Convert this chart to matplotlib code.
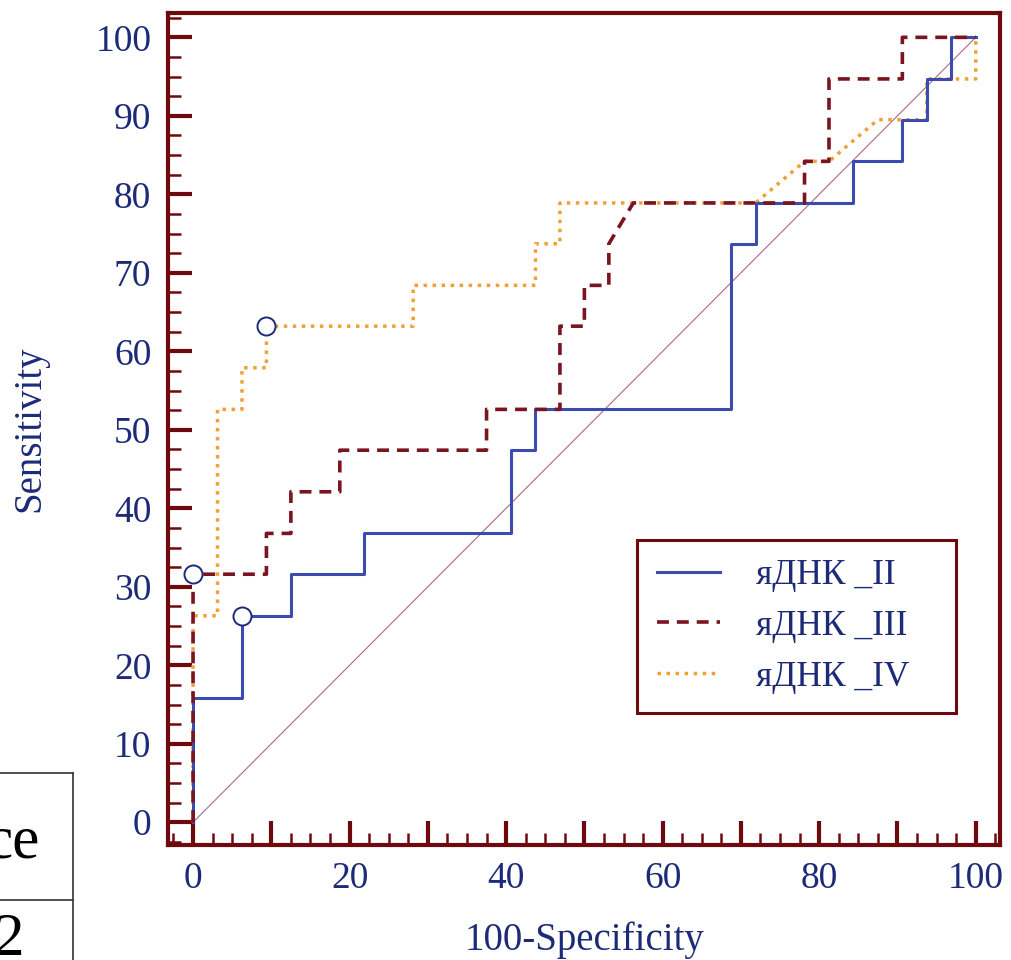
import numpy as np
import matplotlib
matplotlib.use('Agg')
import matplotlib.pyplot as plt
from matplotlib.ticker import MultipleLocator, FuncFormatter
from matplotlib.lines import Line2D

plt.rcParams['font.family'] = ['Liberation Serif', 'DejaVu Serif']

# ROC curves, path vertices (100-Specificity, Sensitivity)
ii_x = [0, 0, 6.25, 6.25, 12.5, 12.5, 21.875, 21.875, 40.625, 40.625, 43.75, 43.75,
        68.75, 68.75, 71.875, 71.875, 84.375, 84.375, 90.625, 90.625, 93.75, 93.75,
        96.875, 96.875, 100]
ii_y = [0, 15.8, 15.8, 26.3, 26.3, 31.6, 31.6, 36.8, 36.8, 47.4, 47.4, 52.6,
        52.6, 73.7, 73.7, 78.9, 78.9, 84.2, 84.2, 89.5, 89.5, 94.7,
        94.7, 100, 100]

iii_x = [0, 0, 9.375, 9.375, 12.5, 12.5, 18.75, 18.75, 37.5, 37.5, 46.875, 46.875,
         50, 50, 53.125, 53.125, 56.25, 78.125, 78.125, 81.25, 81.25, 90.625, 90.625, 100]
iii_y = [0, 31.6, 31.6, 36.8, 36.8, 42.1, 42.1, 47.4, 47.4, 52.6, 52.6, 63.2,
         63.2, 68.4, 68.4, 73.7, 78.9, 78.9, 84.2, 84.2, 94.7, 94.7, 100, 100]

iv_x = [0, 0, 3.125, 3.125, 6.25, 6.25, 9.375, 9.375, 28.125, 28.125, 43.75, 43.75,
        46.875, 46.875, 71.875, 78.125, 81.25, 87.5, 93.75, 93.75, 100, 100]
iv_y = [0, 26.3, 26.3, 52.6, 52.6, 57.9, 57.9, 63.2, 63.2, 68.4, 68.4, 73.7,
        73.7, 78.9, 78.9, 84.2, 84.2, 89.5, 89.5, 94.7, 94.7, 100]

# optimal cut-off points (open circles)
cut_x = [0, 6.25, 9.375]
cut_y = [31.6, 26.3, 63.2]

labels = ['яДНК _II', 'яДНК _III', 'яДНК _IV']

navy = '#1c2a78'
darkred = '#6e0a0e'
blue = '#3b4bb0'
red = '#7a1420'
orange = '#f0a035'

fig = plt.figure(figsize=(10.11, 9.6), dpi=100)
ax = fig.add_axes([168 / 1011, 1 - 845 / 960, 832 / 1011, 832 / 960])

ax.plot([0, 100], [0, 100], color='#a86a8a', lw=0.8, zorder=1)
ax.plot(ii_x, ii_y, color=blue, lw=2.2, zorder=3)
ax.plot(iii_x, iii_y, color=red, lw=2.6, dashes=(3.3, 2.2), zorder=4)
ax.plot(iv_x, iv_y, color=orange, lw=2.5, linestyle=(0, (1, 1.6)), zorder=2)
ax.plot(cut_x, cut_y, 'o', ms=13, mfc='white', mec=navy, mew=1.4, zorder=5)

ax.set_xlim(-3.2, 103.1)
ax.set_ylim(-2.9, 103.1)

for sp in ax.spines.values():
    sp.set_color(darkred)
    sp.set_linewidth(3)

ax.xaxis.set_major_locator(MultipleLocator(10))
ax.xaxis.set_minor_locator(MultipleLocator(2.5))
ax.yaxis.set_major_locator(MultipleLocator(10))
ax.yaxis.set_minor_locator(MultipleLocator(2.5))
ax.xaxis.set_major_formatter(FuncFormatter(lambda v, p: f'{v:.0f}' if round(v) % 20 == 0 else ''))
ax.yaxis.set_major_formatter(FuncFormatter(lambda v, p: f'{v:.0f}'))

ax.tick_params(which='major', direction='in', length=17, width=3, color=darkred,
               labelcolor=navy, labelsize=27, pad=12)
ax.tick_params(which='minor', direction='in', length=9, width=1.8, color=darkred)

ax.set_xlabel('100-Specificity', fontsize=28, color=navy, labelpad=18)
ax.set_ylabel('Sensitivity', fontsize=28, color=navy, labelpad=34)

handles = [Line2D([], [], color=blue, lw=2.2),
           Line2D([], [], color=red, lw=2.6, dashes=(3.3, 2.2)),
           Line2D([], [], color=orange, lw=2.5, linestyle=(0, (1, 1.6)))]
leg = ax.legend(handles, labels, loc='upper left', bbox_to_anchor=(0.564, 0.166, 0.383, 0.201),
                mode='expand', fontsize=25.5, labelcolor=navy, fancybox=False,
                handlelength=1.8, handletextpad=1.0, borderpad=0.55, labelspacing=0.5,
                borderaxespad=0, framealpha=1)
leg.get_frame().set_edgecolor(darkred)
leg.get_frame().set_linewidth(2.2)

# fragment of a neighbouring table at the lower left
fig.add_artist(Line2D([0, 73 / 1011], [1 - 773 / 960] * 2, color='#333333', lw=1.2))
fig.add_artist(Line2D([0, 73 / 1011], [1 - 900 / 960] * 2, color='#333333', lw=1.2))
fig.add_artist(Line2D([73 / 1011] * 2, [0, 1 - 773 / 960], color='#333333', lw=1.2))
fig.text(40 / 1011, 1 - 858 / 960, 'ce', ha='right', va='baseline', fontsize=44, color='black')
fig.text(24 / 1011, 1 - 955 / 960, '2', ha='right', va='baseline', fontsize=44, color='black')

fig.savefig('out.png', dpi=100)
